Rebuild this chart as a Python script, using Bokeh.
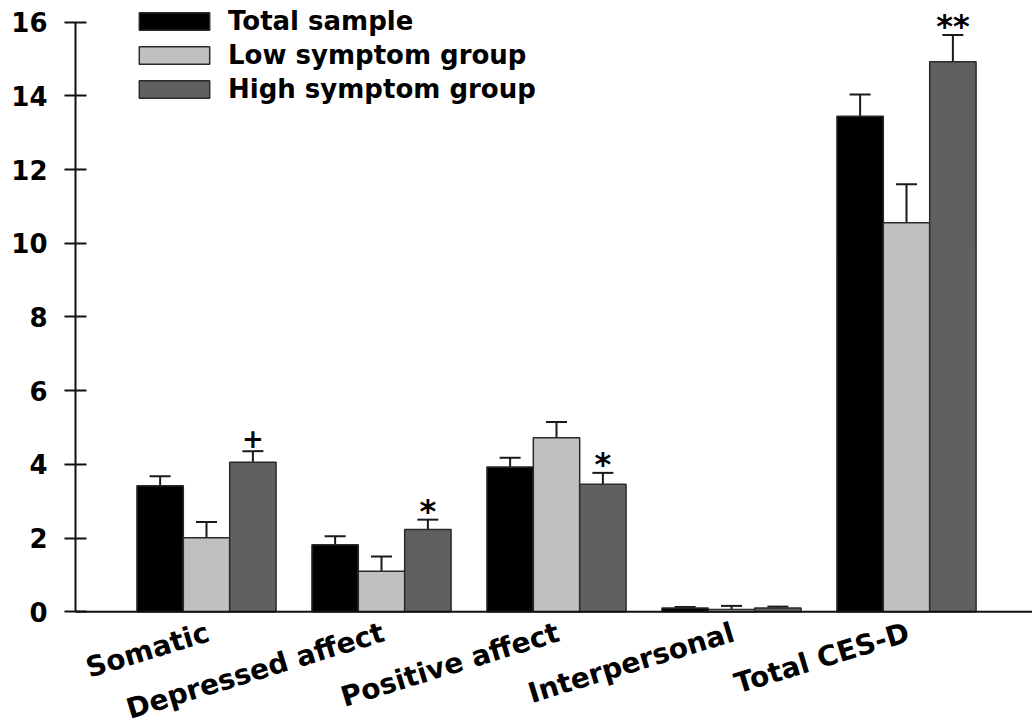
import math
from bokeh.plotting import figure
from bokeh.models import (ColumnDataSource, Whisker, TeeHead, FixedTicker, Legend,
                          LegendItem, Range1d, Span)
from bokeh.transform import dodge
from bokeh.core.properties import value
from bokeh.embed import file_html
from bokeh.resources import INLINE

categories = ["Somatic", "Depressed affect", "Positive affect", "Interpersonal", "Total CES-D"]
series_names = ["Total sample", "Low symptom group", "High symptom group"]
total_mean = [3.42, 1.82, 3.93, 0.10, 13.45]
total_err = [0.26, 0.23, 0.25, 0.03, 0.59]
low_mean = [2.01, 1.10, 4.72, 0.06, 10.56]
low_err = [0.43, 0.40, 0.43, 0.10, 1.04]
high_mean = [4.06, 2.23, 3.46, 0.10, 14.93]
high_err = [0.30, 0.27, 0.31, 0.04, 0.72]
sig_marks = ["+", "*", "*", "", "**"]
y_ticks = [0, 2, 4, 6, 8, 10, 12, 14, 16]

colors = ["#000000", "#c0c0c0", "#606060"]
FONT = "DejaVu Sans"
BW = 0.265

xi = list(range(len(categories)))
p = figure(width=1032, height=726, output_backend="svg", toolbar_location=None,
           x_range=Range1d(-0.7486, 4.72), y_range=Range1d(-3.113, 16.589),
           min_border_left=75, min_border_right=0, min_border_top=0, min_border_bottom=0)
p.grid.visible = False
p.outline_line_color = None
p.background_fill_color = "white"
p.border_fill_color = "white"
p.xaxis.visible = False

renderers = []
series = [(total_mean, total_err), (low_mean, low_err), (high_mean, high_err)]
offsets = [-BW, 0.0, BW]
for (m, e), off, col in zip(series, offsets, colors):
    src = ColumnDataSource(dict(xi=xi, top=m, upper=[a + b for a, b in zip(m, e)],
                                xs=[x + off for x in xi]))
    r = p.vbar(x=dodge("xi", off), top="top", bottom=0, width=BW, source=src,
               fill_color=col, line_color="#2a2a2a", line_width=1.5)
    renderers.append(r)
    w = Whisker(source=src, base="xs", lower="top", upper="upper", dimension="height",
                line_color="#1a1a1a", line_width=2, lower_head=None,
                upper_head=TeeHead(size=21, line_color="#1a1a1a", line_width=2))
    p.add_layout(w)

# x baseline at zero
p.add_layout(Span(location=0, dimension="width", line_color="#111111", line_width=2))

# significance marks above high-symptom bars
tops = [a + b for a, b in zip(high_mean, high_err)]
plus_idx = [i for i, s in enumerate(sig_marks) if s == "+"]
star_idx = [i for i, s in enumerate(sig_marks) if s.startswith("*")]
psrc = ColumnDataSource(dict(xs=[xi[i] + BW for i in plus_idx], y=[tops[i] for i in plus_idx],
                             t=[sig_marks[i] for i in plus_idx]))
ssrc = ColumnDataSource(dict(xs=[xi[i] + BW for i in star_idx], y=[tops[i] for i in star_idx],
                             t=[sig_marks[i] for i in star_idx]))
p.text(x="xs", y="y", text="t", source=psrc, text_align="center", text_baseline="bottom",
       text_font=value(FONT), text_font_style="bold", text_font_size="26px",
       text_color="black", y_offset=-3)
p.text(x="xs", y="y", text="t", source=ssrc, text_align="center", text_baseline="bottom",
       text_font=value(FONT), text_font_style="bold", text_font_size="32px",
       text_color="black", y_offset=10)

# category labels, rotated, right end at group centre
csrc = ColumnDataSource(dict(x=xi, y=[0] * len(xi), t=categories))
p.text(x="x", y="y", text="t", source=csrc, angle=math.radians(17), text_align="right",
       text_baseline="top", x_offset=-3, y_offset=4,
       text_font=value(FONT), text_font_style="bold", text_font_size="28px",
       text_color="black")

# y axis
ya = p.yaxis[0]
ya.ticker = FixedTicker(ticks=y_ticks)
ya.bounds = (0, 16)
ya.axis_line_width = 2
ya.axis_line_color = "#111111"
ya.major_tick_in = 11
ya.major_tick_out = 11
ya.major_tick_line_width = 2
ya.major_tick_line_color = "#111111"
ya.minor_tick_line_color = None
ya.major_label_standoff = 17
ya.major_label_text_font = FONT
ya.major_label_text_font_style = "bold"
ya.major_label_text_font_size = "26px"
ya.major_label_text_color = "black"

legend = Legend(items=[LegendItem(label=n, renderers=[r]) for n, r in zip(series_names, renderers)],
                location=(55, 622), orientation="vertical")
legend.glyph_width = 88
legend.glyph_height = 22
legend.label_standoff = 10
legend.spacing = 4
legend.padding = 0
legend.margin = 0
legend.border_line_color = None
legend.background_fill_alpha = 0
legend.label_text_font = FONT
legend.label_text_font_style = "bold"
legend.label_text_font_size = "26px"
legend.label_text_color = "black"
p.add_layout(legend, "center")

open("out.html", "w").write(file_html(p, INLINE))
